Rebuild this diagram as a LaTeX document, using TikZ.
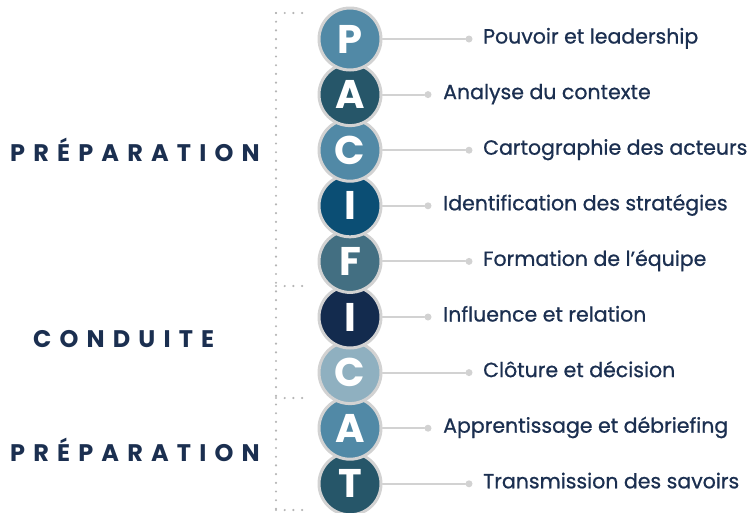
\documentclass[tikz,border=0pt]{standalone}
\usepackage{fontspec}
\setmainfont{Poppins}
\definecolor{bleuclair}{HTML}{5189A6}
\definecolor{bleupetrole}{HTML}{265669}
\definecolor{bleuprofond}{HTML}{0B4E74}
\definecolor{bleugris}{HTML}{436F82}
\definecolor{marine}{HTML}{132B4E}
\definecolor{bleupale}{HTML}{8FB0C0}
\definecolor{texte}{HTML}{1B2F50}
\definecolor{grisbord}{HTML}{D2D2D2}
\definecolor{grispoint}{HTML}{B5B5B5}
\begin{document}
\begin{tikzpicture}[x=1pt, y=-1pt, line join=round, line cap=round]
	\useasboundingbox (0,0) rectangle (755,512);
	\tikzset{
		lettre/.style={circle, draw=grisbord, line width=3pt, minimum size=62pt, inner sep=0pt,
			text=white, font=\fontsize{40}{40}\selectfont\bfseries},
		point/.style={circle, fill=grisbord, inner sep=0pt, minimum size=7pt},
		etiquette/.style={anchor=base west, text=texte, inner sep=0pt,
			font=\fontsize{20.5}{20.5}\selectfont\addfontfeature{FakeBold=0.8}},
		phase/.style={anchor=west, text=texte, inner sep=0pt,
			font=\fontsize{24}{24}\selectfont\bfseries\addfontfeature{LetterSpace=34}},
		pointilles/.style={grispoint, line width=2.4pt, dash pattern=on 0pt off 8.7pt}
	}
	\def\pas{55.6} % écart entre deux cercles
	% accolade en pointillés
	\draw[pointilles] (276,13) -- (276,512);
	\foreach \y in {13,286,398,510}
	\draw[pointilles] (276,\y) -- (305,\y);
	% phases
	\node[phase] (prep1) at (10,150) {PRÉPARATION};
	\node[phase] (cond) at (33,339) {CONDUITE};
	\node[phase] (prep2) at (10,450) {PRÉPARATION};
	% cercles, du bas vers le haut
	\foreach \i/\lettre/\coul/\txt/\dx in {
		8/T/bleupetrole/Transmission des savoirs/1,
		7/A/bleuclair/Apprentissage et débriefing/0,
		6/C/bleupale/Clôture et décision/1,
		5/I/marine/Influence et relation/0,
		4/F/bleugris/Formation de l’équipe/1,
		3/I/bleuprofond/Identification des stratégies/0,
		2/C/bleuclair/Cartographie des acteurs/1,
		1/A/bleupetrole/Analyse du contexte/0,
		0/P/bleuclair/Pouvoir et leadership/1}
	{
		\node[lettre, fill=\coul] (c\i) at (350,{39+\i*\pas}) {\lettre};
		\node[point] (p\i) at ({428+41*\dx},{39+\i*\pas}) {};
		\draw[grisbord, line width=2pt] (c\i.east) -- (p\i);
		\node[etiquette] (t\i) at ({443+40*\dx},{43.5+\i*\pas}) {\txt};
	}
\end{tikzpicture}
\end{document}
